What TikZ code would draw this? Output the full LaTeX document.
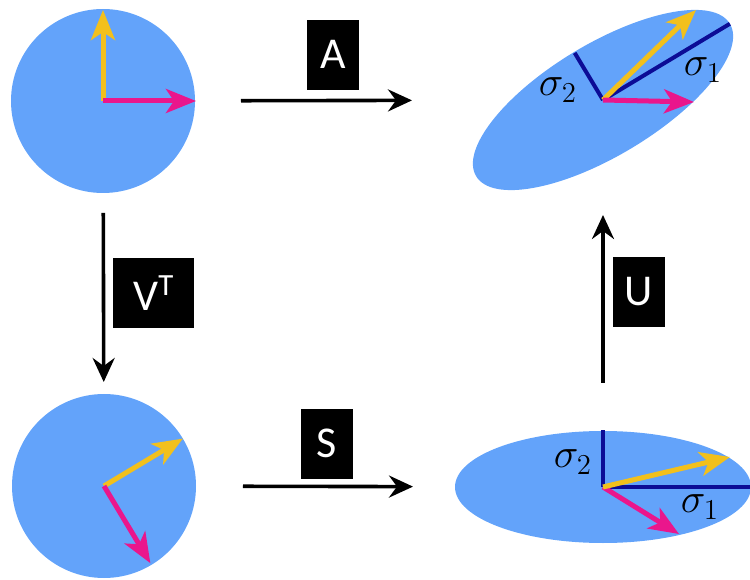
\documentclass[tikz,border=0pt]{standalone}
\usepackage{fontspec}
\setsansfont{Carlito}
\usepackage{amsmath}
\usetikzlibrary{
    arrows.meta,
    shapes.geometric,
    positioning
}
\definecolor{discblue}{RGB}{99,163,250}
\definecolor{vecyellow}{RGB}{242,192,28}
\definecolor{vecpink}{RGB}{234,22,140}
\definecolor{axisblue}{RGB}{12,12,150}
\tikzstyle{disc} = [
    circle,
    fill=discblue,
    inner sep=0pt,
    minimum size=92pt
]
\tikzstyle{blob} = [
    ellipse,
    fill=discblue,
    inner sep=0pt,
    minimum width=148pt,
    minimum height=56pt
]
\tikzstyle{tag} = [
    rectangle,
    fill=black,
    text=white,
    inner sep=0pt,
    minimum width=26pt,
    minimum height=35pt,
    font=\fontsize{22}{24}\selectfont\sffamily
]
\tikzstyle{mapto} = [
    -{Stealth[length=12pt, width=11pt, inset=4pt]},
    line width=1.8pt,
    draw=black
]
\tikzstyle{uvec} = [
    -{Stealth[length=15pt, width=12pt, inset=4pt]},
    line width=2.5pt,
    draw=vecyellow
]
\tikzstyle{vvec} = [
    -{Stealth[length=15pt, width=12pt, inset=4pt]},
    line width=2.5pt,
    draw=vecpink
]
\tikzstyle{semiaxis} = [
    line width=2pt,
    draw=axisblue
]
\tikzstyle{sigma} = [
    inner sep=0pt,
    font=\fontsize{22}{25}\selectfont
]

\begin{document}
\begin{tikzpicture}[x=0.5pt, y=0.5pt]
        \useasboundingbox (0,0) rectangle (750,579);

        % the four shapes
        \node[disc] (c1) at (103,478) {};
        \node[disc] (c2) at (104,93) {};
        \node[blob] (e1) at (603,92) {};
        \node[blob, rotate=31] (e2) at (603,479) {};

        % semi-axes
        \draw[semiaxis] (e1.center) -- ++(149,0);
        \draw[semiaxis] (e1.center) -- ++(0,57);
        \draw[semiaxis] (e2.center) -- ++(31:148);
        \draw[semiaxis] (e2.center) -- ++(121:55);
        \node[sigma] (s2a) at ([shift={(-45,10)}]e2.center) {$\sigma_2$};
        \node[sigma] (s1a) at ([shift={(100,30)}]e2.center) {$\sigma_1$};
        \node[sigma] (s2b) at ([shift={(-30,25)}]e1.center) {$\sigma_2$};
        \node[sigma] (s1b) at ([shift={(97,-20)}]e1.center) {$\sigma_1$};

        % vectors
        \draw[uvec] (c1.center) -- ++(90:91);
        \draw[vvec] (c1.center) -- ++(0:93);
        \draw[uvec] (c2.center) -- ++(31:92);
        \draw[vvec] (c2.center) -- ++(-59:90);
        \draw[vvec] (e1.center) -- ++(76,-47);
        \draw[uvec] (e1.center) -- ++(127,30);
        \draw[uvec] (e2.center) -- ++(93,90);
        \draw[vvec] (e2.center) -- ++(91,-2);

        % maps
        \draw[mapto, shorten <=69pt, shorten >=95.5pt] (c1.center) -- node[tag, pos=0.46, above=4.5pt] (tA) {A} (e2.center);
        \draw[mapto, shorten <=56pt, shorten >=52pt] (c1.center) -- node[tag, minimum width=40.5pt, pos=0.5, right=4pt] (tV) {V\textsuperscript{T}} (c2.center);
        \draw[mapto, shorten <=69.5pt, shorten >=95pt] (c2.center) -- node[tag, pos=0.447, above=3pt] (tS) {S} (e1.center);
        \draw[mapto, shorten <=52pt, shorten >=57.5pt] (e1.center) -- node[tag, pos=0.504, right=4pt] (tU) {U} (e2.center);
    \end{tikzpicture}
\end{document}
